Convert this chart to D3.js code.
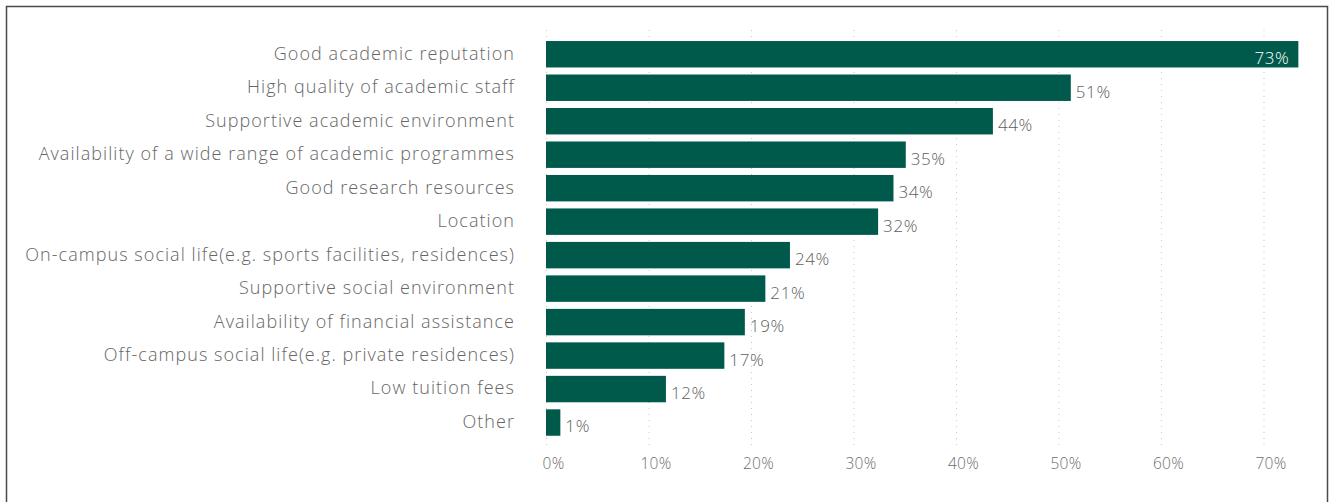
<!DOCTYPE html>
<html>
<head>
<meta charset="utf-8">
<script src="https://cdn.jsdelivr.net/npm/d3@7"></script>
<style>
  html, body { margin: 0; padding: 0; background: #fff; }
  svg { display: block; font-family: 'Open Sans', sans-serif; }
</style>
</head>
<body>
<svg id="chart" width="1330" height="502"></svg>
<script>
const categories = [
  'Good academic reputation',
  'High quality of academic staff',
  'Supportive academic environment',
  'Availability of a wide range of academic programmes',
  'Good research resources',
  'Location',
  'On-campus social life(e.g. sports facilities, residences)',
  'Supportive social environment',
  'Availability of financial assistance',
  'Off-campus social life(e.g. private residences)',
  'Low tuition fees',
  'Other'
]
const values = [73.4, 51.2, 43.6, 35.1, 33.9, 32.4, 23.8, 21.4, 19.4, 17.4, 11.7, 1.4]
const ticks = [0, 10, 20, 30, 40, 50, 60, 70]

const BAR_COLOR = '#005a4b'
const TEXT_COLOR = '#666666'

const svg = d3.select('#chart')

// frame round the chart
svg.append('rect')
  .attr('x', 6.5).attr('y', 6.5)
  .attr('width', 1321).attr('height', 520)
  .attr('fill', 'none')
  .attr('stroke', '#4a4a4a')
  .attr('stroke-width', 1.5)

const x = d3.scaleLinear().domain([0, 70]).range([546, 1263.5])
const y = d3.scaleBand()
  .domain(categories)
  .range([34, 442.8])
  .padding(0.21)

// dotted grid
svg.append('g')
  .selectAll('line')
  .data(ticks)
  .join('line')
  .attr('x1', d => x(d) + 0.5).attr('x2', d => x(d) + 0.5)
  .attr('y1', 30).attr('y2', 449)
  .attr('stroke', '#c8c8c8')
  .attr('stroke-width', 1)
  .attr('stroke-dasharray', '1,5')

// x axis labels
const xAxis = d3.axisBottom(x)
  .tickValues(ticks)
  .tickFormat(d => d + '%')
  .tickSize(0)
  .tickPadding(0)

svg.append('g')
  .attr('transform', 'translate(7, 458)')
  .call(xAxis)
  .call(g => g.select('.domain').remove())
  .selectAll('text')
  .attr('font-family', 'Open Sans, sans-serif')
  .attr('font-size', 15.5)
  .attr('font-weight', 300)
  .attr('letter-spacing', 0.3)
  .attr('fill', '#6e6e6e')

// category labels
svg.append('g')
  .selectAll('text')
  .data(categories)
  .join('text')
  .attr('x', 515)
  .attr('y', d => y(d) + y.bandwidth() / 2)
  .attr('dy', '0.3em')
  .attr('text-anchor', 'end')
  .attr('font-size', 18)
  .attr('font-weight', 300)
  .attr('letter-spacing', 1.05)
  .attr('fill', TEXT_COLOR)
  .text(d => d)

const rows = categories.map((c, i) => ({ c, v: values[i] }))

// bars
svg.append('g')
  .selectAll('rect')
  .data(rows)
  .join('rect')
  .attr('x', x(0))
  .attr('y', d => y(d.c))
  .attr('width', d => x(d.v) - x(0))
  .attr('height', y.bandwidth())
  .attr('fill', BAR_COLOR)

// value labels, inside the bar when it runs past the axis
svg.append('g')
  .selectAll('text')
  .data(rows)
  .join('text')
  .attr('x', d => d.v > 70 ? x(d.v) - 9 : x(d.v) + 5)
  .attr('y', d => y(d.c) + y.bandwidth() / 2 + 4)
  .attr('dy', '0.35em')
  .attr('text-anchor', d => d.v > 70 ? 'end' : 'start')
  .attr('font-size', 17)
  .attr('font-weight', 300)
  .attr('letter-spacing', 0.6)
  .attr('fill', d => d.v > 70 ? '#ffffff' : '#5e5e5e')
  .text(d => Math.round(d.v) + '%')
</script>
</body>
</html>
